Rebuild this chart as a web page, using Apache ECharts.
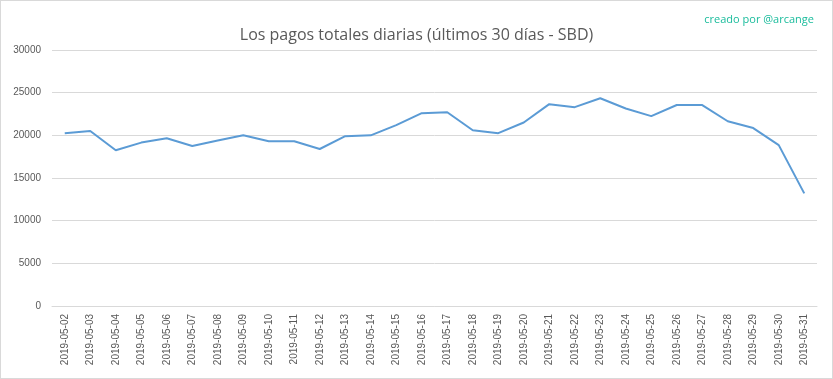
<!DOCTYPE html>
<html><head><meta charset="utf-8">
<script src="https://cdn.jsdelivr.net/npm/echarts@6/dist/echarts.min.js"></script>
<style>html,body{margin:0;padding:0;background:#fff}#c{width:833px;height:379px;box-sizing:border-box;border:1px solid #d9d9d9}</style>
</head><body><div id="c"></div>
<script>
const categories = ["2019-05-02","2019-05-03","2019-05-04","2019-05-05","2019-05-06","2019-05-07","2019-05-08","2019-05-09","2019-05-10","2019-05-11","2019-05-12","2019-05-13","2019-05-14","2019-05-15","2019-05-16","2019-05-17","2019-05-18","2019-05-19","2019-05-20","2019-05-21","2019-05-22","2019-05-23","2019-05-24","2019-05-25","2019-05-26","2019-05-27","2019-05-28","2019-05-29","2019-05-30","2019-05-31"];
const payouts = [20250,20500,18250,19150,19650,18750,19400,20000,19300,19300,18400,19900,20000,21200,22600,22700,20600,20250,21500,23650,23300,24350,23150,22250,23550,23550,21650,20850,18850,13200];
const titleText = "Los pagos totales diarias (últimos 30 días - SBD)";
const creditText = "creado por @arcange";
const chart = echarts.init(document.getElementById('c'));
chart.setOption({
  animation:false,
  title:[
    {text:titleText,left:'center',top:21,textStyle:{fontFamily:'Open Sans',fontWeight:'normal',fontSize:16,color:'#595959'}},
    {text:creditText,right:13,top:8,textStyle:{fontFamily:'Open Sans',fontWeight:'normal',fontSize:11,color:'#1abc9c'}}
  ],
  grid:{left:51,right:15,top:49,bottom:72},
  xAxis:{type:'category',data:categories,boundaryGap:true,
    axisLine:{lineStyle:{color:'#d9d9d9'}},axisTick:{show:false},
    axisLabel:{rotate:90,color:'#595959',fontSize:10,fontFamily:'Liberation Sans',margin:8,interval:0}},
  yAxis:{type:'value',min:0,max:30000,interval:5000,
    axisLine:{show:false},axisTick:{show:false},
    splitLine:{lineStyle:{color:'#d9d9d9'}},
    axisLabel:{color:'#595959',fontSize:10,fontFamily:'Liberation Sans',margin:11,formatter:v=>String(v)}},
  series:[{type:'line',data:payouts,symbol:'none',lineStyle:{color:'#5b9bd5',width:2}}]
});
</script></body></html>
